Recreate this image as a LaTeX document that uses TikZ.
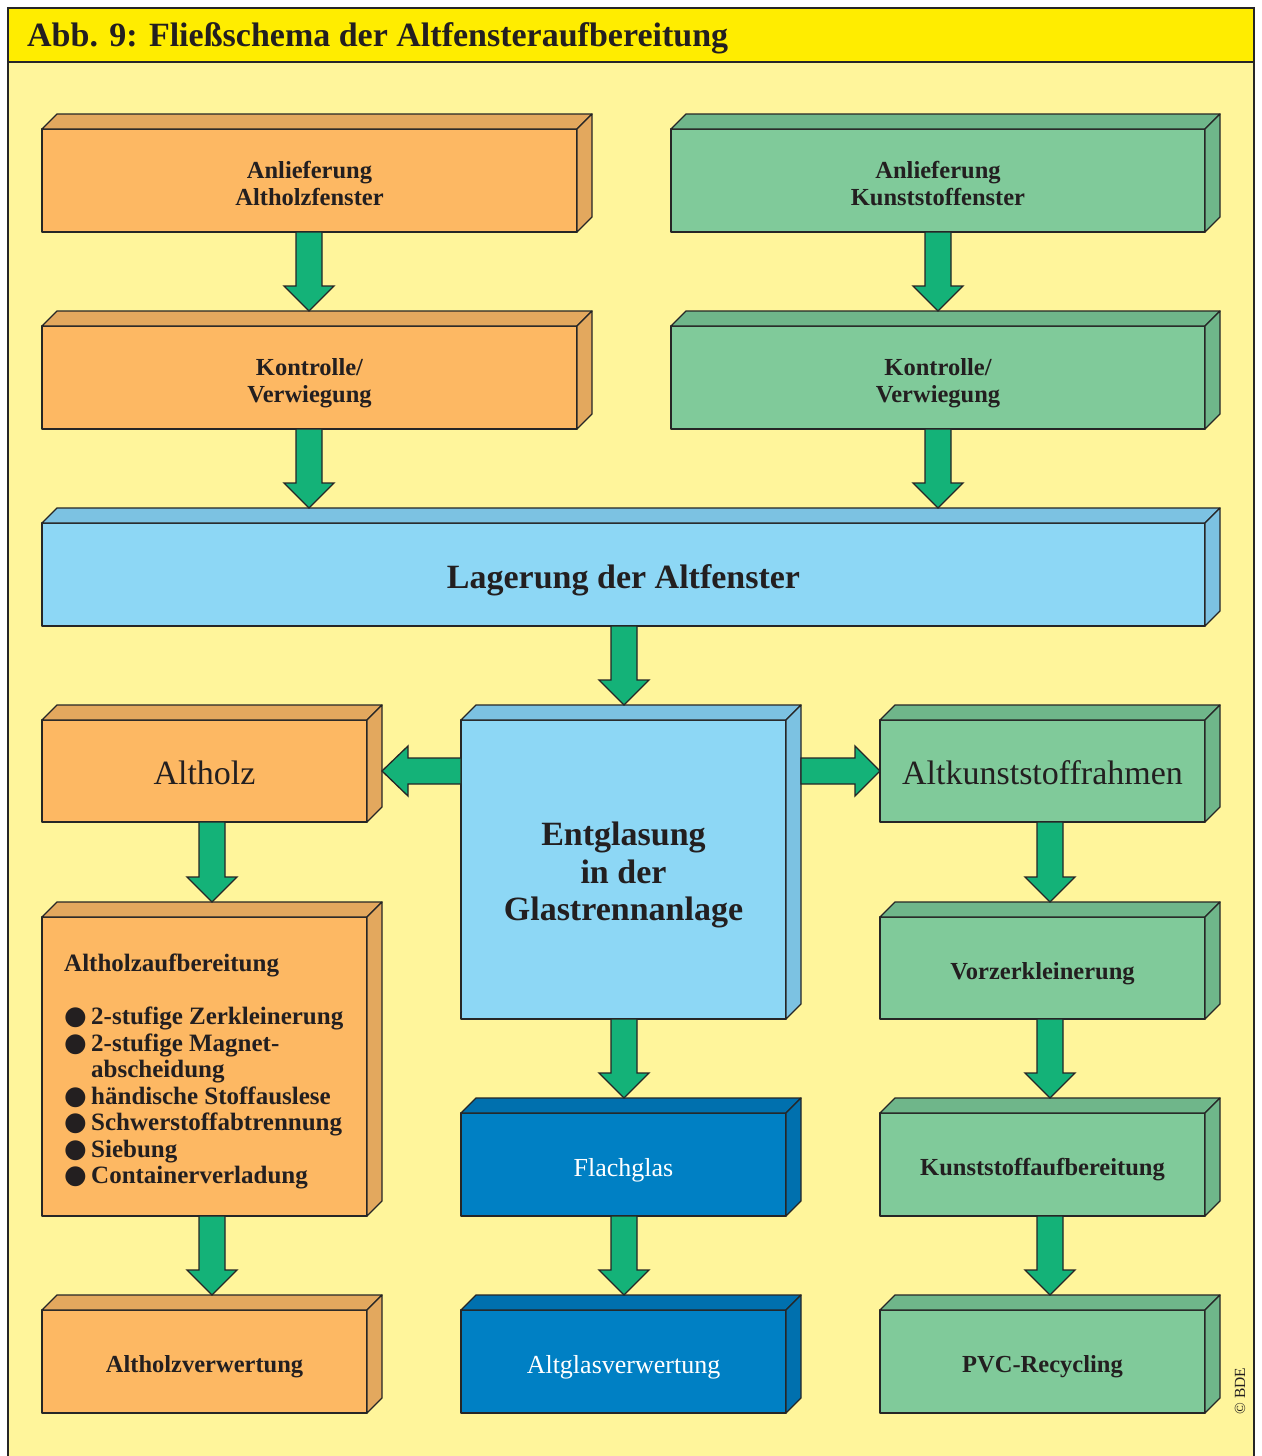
\documentclass[tikz,border=0pt]{standalone}
\usepackage{fontspec}
\setmainfont{Liberation Serif}
\newfontfamily\dejavu{DejaVu Sans}
\usetikzlibrary{calc}
\definecolor{bgY}{HTML}{FFF59B}
\definecolor{titleY}{HTML}{FFED00}
\definecolor{lineC}{HTML}{262626}
\definecolor{txtC}{HTML}{231F20}
\definecolor{orF}{HTML}{FDB863}
\definecolor{orS}{HTML}{E3A85E}
\definecolor{grF}{HTML}{80CA9A}
\definecolor{grS}{HTML}{6FB68A}
\definecolor{lbF}{HTML}{8DD7F5}
\definecolor{lbS}{HTML}{7CC2E2}
\definecolor{dbF}{HTML}{0080C4}
\definecolor{dbS}{HTML}{0070AE}
\definecolor{arrG}{HTML}{14B278}
\tikzset{
  face/.style={draw=lineC, line width=1.3pt, line join=round},
  frontbox/.style={face, inner sep=0pt, outer sep=0pt, align=center, text=txtC},
  arr/.style={draw=lineC, line width=1.3pt, fill=arrG, line join=miter},
  smalltxt/.style={font=\fontsize{24.5}{27}\selectfont\bfseries},
  bigbold/.style={font=\fontsize{34}{37.5}\selectfont\bfseries},
  bigreg/.style={font=\fontsize{34}{37.5}\selectfont},
  whitetxt/.style={font=\fontsize{26}{28}\selectfont, text=white},
}
\newcommand\bul{\makebox[27pt][l]{\makebox[0pt][l]{\fontsize{26}{26}\dejavu ●}}}
% [#1] extra node options, #2 name, #3 x1, #4 y1, #5 x2, #6 y2, #7 front, #8 side, #9 text
\newcommand\tbox[9][]{%
  \node[frontbox, fill=#7, minimum width={(#5-#3)*1pt}, minimum height={(#6-#4)*1pt}, #1]
    (#2) at ({(#3+#5)/2},{(#4+#6)/2}) {\raisebox{-6pt}[\height][\depth]{\begin{tabular}{@{}c@{}}#9\end{tabular}}};
  \draw[face, fill=#8] (#2.north west) -- ++(15,-15) -- ([shift={(15,-15)}]#2.north east) -- (#2.north east) -- cycle;
  \draw[face, fill=#8] (#2.north east) -- ++(15,-15) -- ([shift={(15,-15)}]#2.south east) -- (#2.south east) -- cycle;
}
% down arrow: #1 from, #2 to, #3 x
\newcommand\darr[3]{%
  \draw[arr] let \p1=(#1.south), \p2=(#2.north) in
    ({#3-13},\y1) -- ({#3-13},\y2+40pt) -- ({#3-25},\y2+40pt) -- ({#3},\y2+15pt)
    -- ({#3+25},\y2+40pt) -- ({#3+13},\y2+40pt) -- ({#3+13},\y1) -- cycle;
}
\begin{document}
\begin{tikzpicture}[x=1pt,y=-1pt]
\useasboundingbox (0,0) rectangle (1261,1456);
\fill[white] (0,0) rectangle (1261,1456);
\fill[bgY] (8,8) rectangle (1254,1456);
\fill[titleY] (8,8) rectangle (1254,62);
\draw[lineC, line width=2pt] (8,62) -- (1254,62);
\draw[lineC, line width=2.5pt] (8,1460) -- (8,8) -- (1254,8) -- (1254,1460);
\node[anchor=base west, inner sep=0pt, text=txtC, font=\fontsize{34}{40}\selectfont\bfseries] (title) at (27,46) {Abb. 9: Fließschema der Altfensteraufbereitung};

\tbox[smalltxt]{A1}{42}{129}{577}{232}{orF}{orS}{Anlieferung\\Altholzfenster}
\tbox[smalltxt]{K1}{671}{129}{1205}{232}{grF}{grS}{Anlieferung\\Kunststoffenster}
\tbox[smalltxt]{A2}{42}{326}{577}{429}{orF}{orS}{Kontrolle/\\Verwiegung}
\tbox[smalltxt]{K2}{671}{326}{1205}{429}{grF}{grS}{Kontrolle/\\Verwiegung}
\tbox[bigbold]{L}{42}{523}{1205}{626}{lbF}{lbS}{Lagerung der Altfenster}
\tbox[bigreg]{AH}{42}{720}{367}{822}{orF}{orS}{Altholz}
\tbox[bigbold]{EG}{461}{720}{786}{1019}{lbF}{lbS}{Entglasung\\in der\\Glastrennanlage}
\tbox[bigreg]{AK}{880}{720}{1205}{822}{grF}{grS}{Altkunststoffrahmen}
\tbox{AA}{42}{917}{367}{1216}{orF}{orS}{}
\tbox[smalltxt]{VZ}{880}{917}{1205}{1019}{grF}{grS}{Vorzerkleinerung}
\tbox[whitetxt]{FG}{461}{1113}{786}{1216}{dbF}{dbS}{Flachglas}
\tbox[smalltxt]{KA}{880}{1113}{1205}{1216}{grF}{grS}{Kunststoffaufbereitung}
\tbox[smalltxt]{AV}{42}{1310}{367}{1413}{orF}{orS}{Altholzverwertung}
\tbox[whitetxt]{AG}{461}{1310}{786}{1413}{dbF}{dbS}{Altglasverwertung}
\tbox[smalltxt]{PV}{880}{1310}{1205}{1413}{grF}{grS}{PVC-Recycling}

\node[anchor=north west, inner sep=0pt, align=left, text=txtC, font=\fontsize{25}{26.5}\selectfont\bfseries] (AAtext) at (64,954)
 {Altholzaufbereitung\\[26.5pt]
  \bul 2-stufige Zerkleinerung\\
  \bul 2-stufige Magnet-\\
  \hphantom{\bul}abscheidung\\
  \bul händische Stoffauslese\\
  \bul Schwerstoffabtrennung\\
  \bul Siebung\\
  \bul Containerverladung};

\darr{A1}{A2}{309}
\darr{K1}{K2}{938}
\darr{A2}{L}{309}
\darr{K2}{L}{938}
\darr{L}{EG}{624}
\darr{AH}{AA}{212}
\darr{AA}{AV}{212}
\darr{EG}{FG}{624}
\darr{FG}{AG}{624}
\darr{AK}{VZ}{1050}
\darr{VZ}{KA}{1050}
\darr{KA}{PV}{1050}

% left arrow EG -> AH
\draw[arr] let \p1=(EG.west), \p2=(AH.east) in
  (\x1,\y2+13pt) -- (\x2+41pt,\y2+13pt) -- (\x2+41pt,\y2+25pt) -- (\x2+15pt,\y2)
  -- (\x2+41pt,\y2-25pt) -- (\x2+41pt,\y2-13pt) -- (\x1,\y2-13pt) -- cycle;
% right arrow EG -> AK
\draw[arr] let \p1=(EG.east), \p2=(AK.west) in
  (\x1+15pt,\y2+13pt) -- (\x2-25pt,\y2+13pt) -- (\x2-25pt,\y2+25pt) -- (\x2,\y2)
  -- (\x2-25pt,\y2-25pt) -- (\x2-25pt,\y2-13pt) -- (\x1+15pt,\y2-13pt) -- cycle;

\node[rotate=90, inner sep=0pt, text=txtC, font=\fontsize{15.5}{17}\selectfont] (bde) at (1240,1391) {© BDE};
\end{tikzpicture}
\end{document}
